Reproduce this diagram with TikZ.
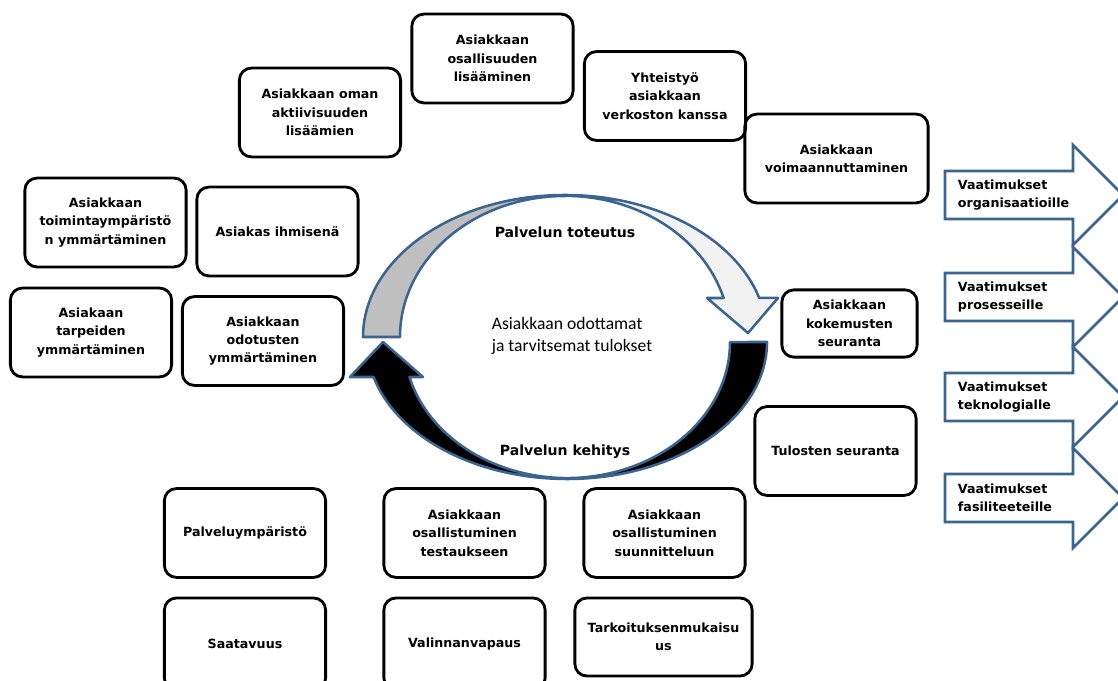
\documentclass[tikz,border=0pt]{standalone}
\usepackage{fontspec}
\setmainfont{DejaVu Sans}
\newfontfamily\calibri{Carlito}
\definecolor{ringblue}{HTML}{3B6491}
\definecolor{ringgray}{HTML}{BFBFBF}
\definecolor{ringwhite}{HTML}{F2F2F2}
\tikzstyle{box} = [draw, line width=2pt, rounded corners=0.3cm, align=center, font=\bfseries\fontsize{9}{13}\selectfont, minimum width=4.03cm, minimum height=2.22cm, inner sep=1pt]
\tikzstyle{band} = [draw=ringblue, line width=1.8pt, line join=round]
\tikzstyle{reqarrow} = [draw=ringblue, line width=1.8pt, fill=white, line join=miter]

\begin{document}
\begin{tikzpicture}[x=0.025cm, y=-0.025cm]
		\useasboundingbox (0,0) rectangle (1118,681);
		% boxes, top arc
		\node[box] (osal) at (492.5, 58.5) {Asiakkaan\\osallisuuden\\lisääminen};
		\node[box] (yht) at (665, 96) {Yhteistyö\\asiakkaan\\verkoston kanssa};
		\node[box, minimum width=4.58cm] (voim) at (836.5, 158.5) {Asiakkaan\\voimaannuttaminen};
		\node[box] (oman) at (320, 112.5) {Asiakkaan oman\\aktiivisuuden\\lisäämien};
		\node[box] (toim) at (105.5, 222.5) {Asiakkaan\\toimintaympäristö\\n ymmärtäminen};
		\node[box] (ihm) at (277.5, 231.5) {Asiakas ihmisenä};
		\node[box] (tarp) at (91, 332.5) {Asiakaan\\tarpeiden\\ymmärtäminen};
		\node[box] (odot) at (263, 341) {Asiakkaan\\odotusten\\ymmärtäminen};
		\node[box, minimum width=3.38cm, minimum height=1.68cm] (kok) at (849.5, 323.5) {Asiakkaan\\kokemusten\\seuranta};
		\node[box] (tul) at (835.5, 451) {Tulosten seuranta};
		% boxes, bottom rows
		\node[box] (pymp) at (245, 533) {Palveluympäristö};
		\node[box] (test) at (464.5, 533) {Asiakkaan\\osallistuminen\\testaukseen};
		\node[box] (suun) at (664.5, 533) {Asiakkaan\\osallistuminen\\suunnitteluun};
		\node[box, minimum height=2.3cm] (saat) at (245, 644) {Saatavuus};
		\node[box, minimum height=2.3cm] (vali) at (464.5, 644) {Valinnanvapaus};
		\node[box, minimum width=4.43cm, minimum height=1.95cm] (tark) at (663.5, 637) {Tarkoituksenmukaisu\\us};
		
		% cycle
		\path[band, fill=black] (767,342) arc[start angle=0, end angle=165.2, x radius=200, y radius=137]
			-- (350,377) -- (383,342) -- (423,377) -- (409.5,377)
			arc[start angle=165.1, end angle=0, x radius=163, y radius=136] -- cycle;
		\path[band, fill=ringgray] (363,337) arc[start angle=180, end angle=270, x radius=202, y radius=142]
			-- (565,196) arc[start angle=270, end angle=180, x radius=165, y radius=141] -- cycle;
		\path[band, fill=ringwhite] (565,195) arc[start angle=270, end angle=344, x radius=202, y radius=142]
			-- (778,298) -- (748,333) -- (707,298) -- (723.6,298)
			arc[start angle=344, end angle=270, x radius=165, y radius=141] -- cycle;
		\node[font=\bfseries\fontsize{10}{12}\selectfont] (tot) at (565, 232) {Palvelun toteutus};
		\node[font=\bfseries\fontsize{10}{12}\selectfont] (keh) at (565, 452) {Palvelun kehitys};
		\node[align=left, font=\calibri\fontsize{12.5}{15.6}\selectfont] (goal) at (572, 336) {Asiakkaan odottamat\\ja tarvitsemat tulokset};
		
		% requirement arrows
		\foreach \y/\txt [count=\i] in {195/organisaatioille, 297/prosesseille, 397/teknologialle, 498/fasiliteeteille} {
			\draw[reqarrow] (945,\y-24) -- (1073,\y-24) -- (1073,\y-50) -- (1123,\y) -- (1073,\y+50) -- (1073,\y+24) -- (945,\y+24) -- cycle;
			\node[anchor=west, align=left, font=\bfseries\fontsize{9}{12.5}\selectfont] (req\i) at (953,\y) {Vaatimukset\\\txt};
		}
\end{tikzpicture}
\end{document}
